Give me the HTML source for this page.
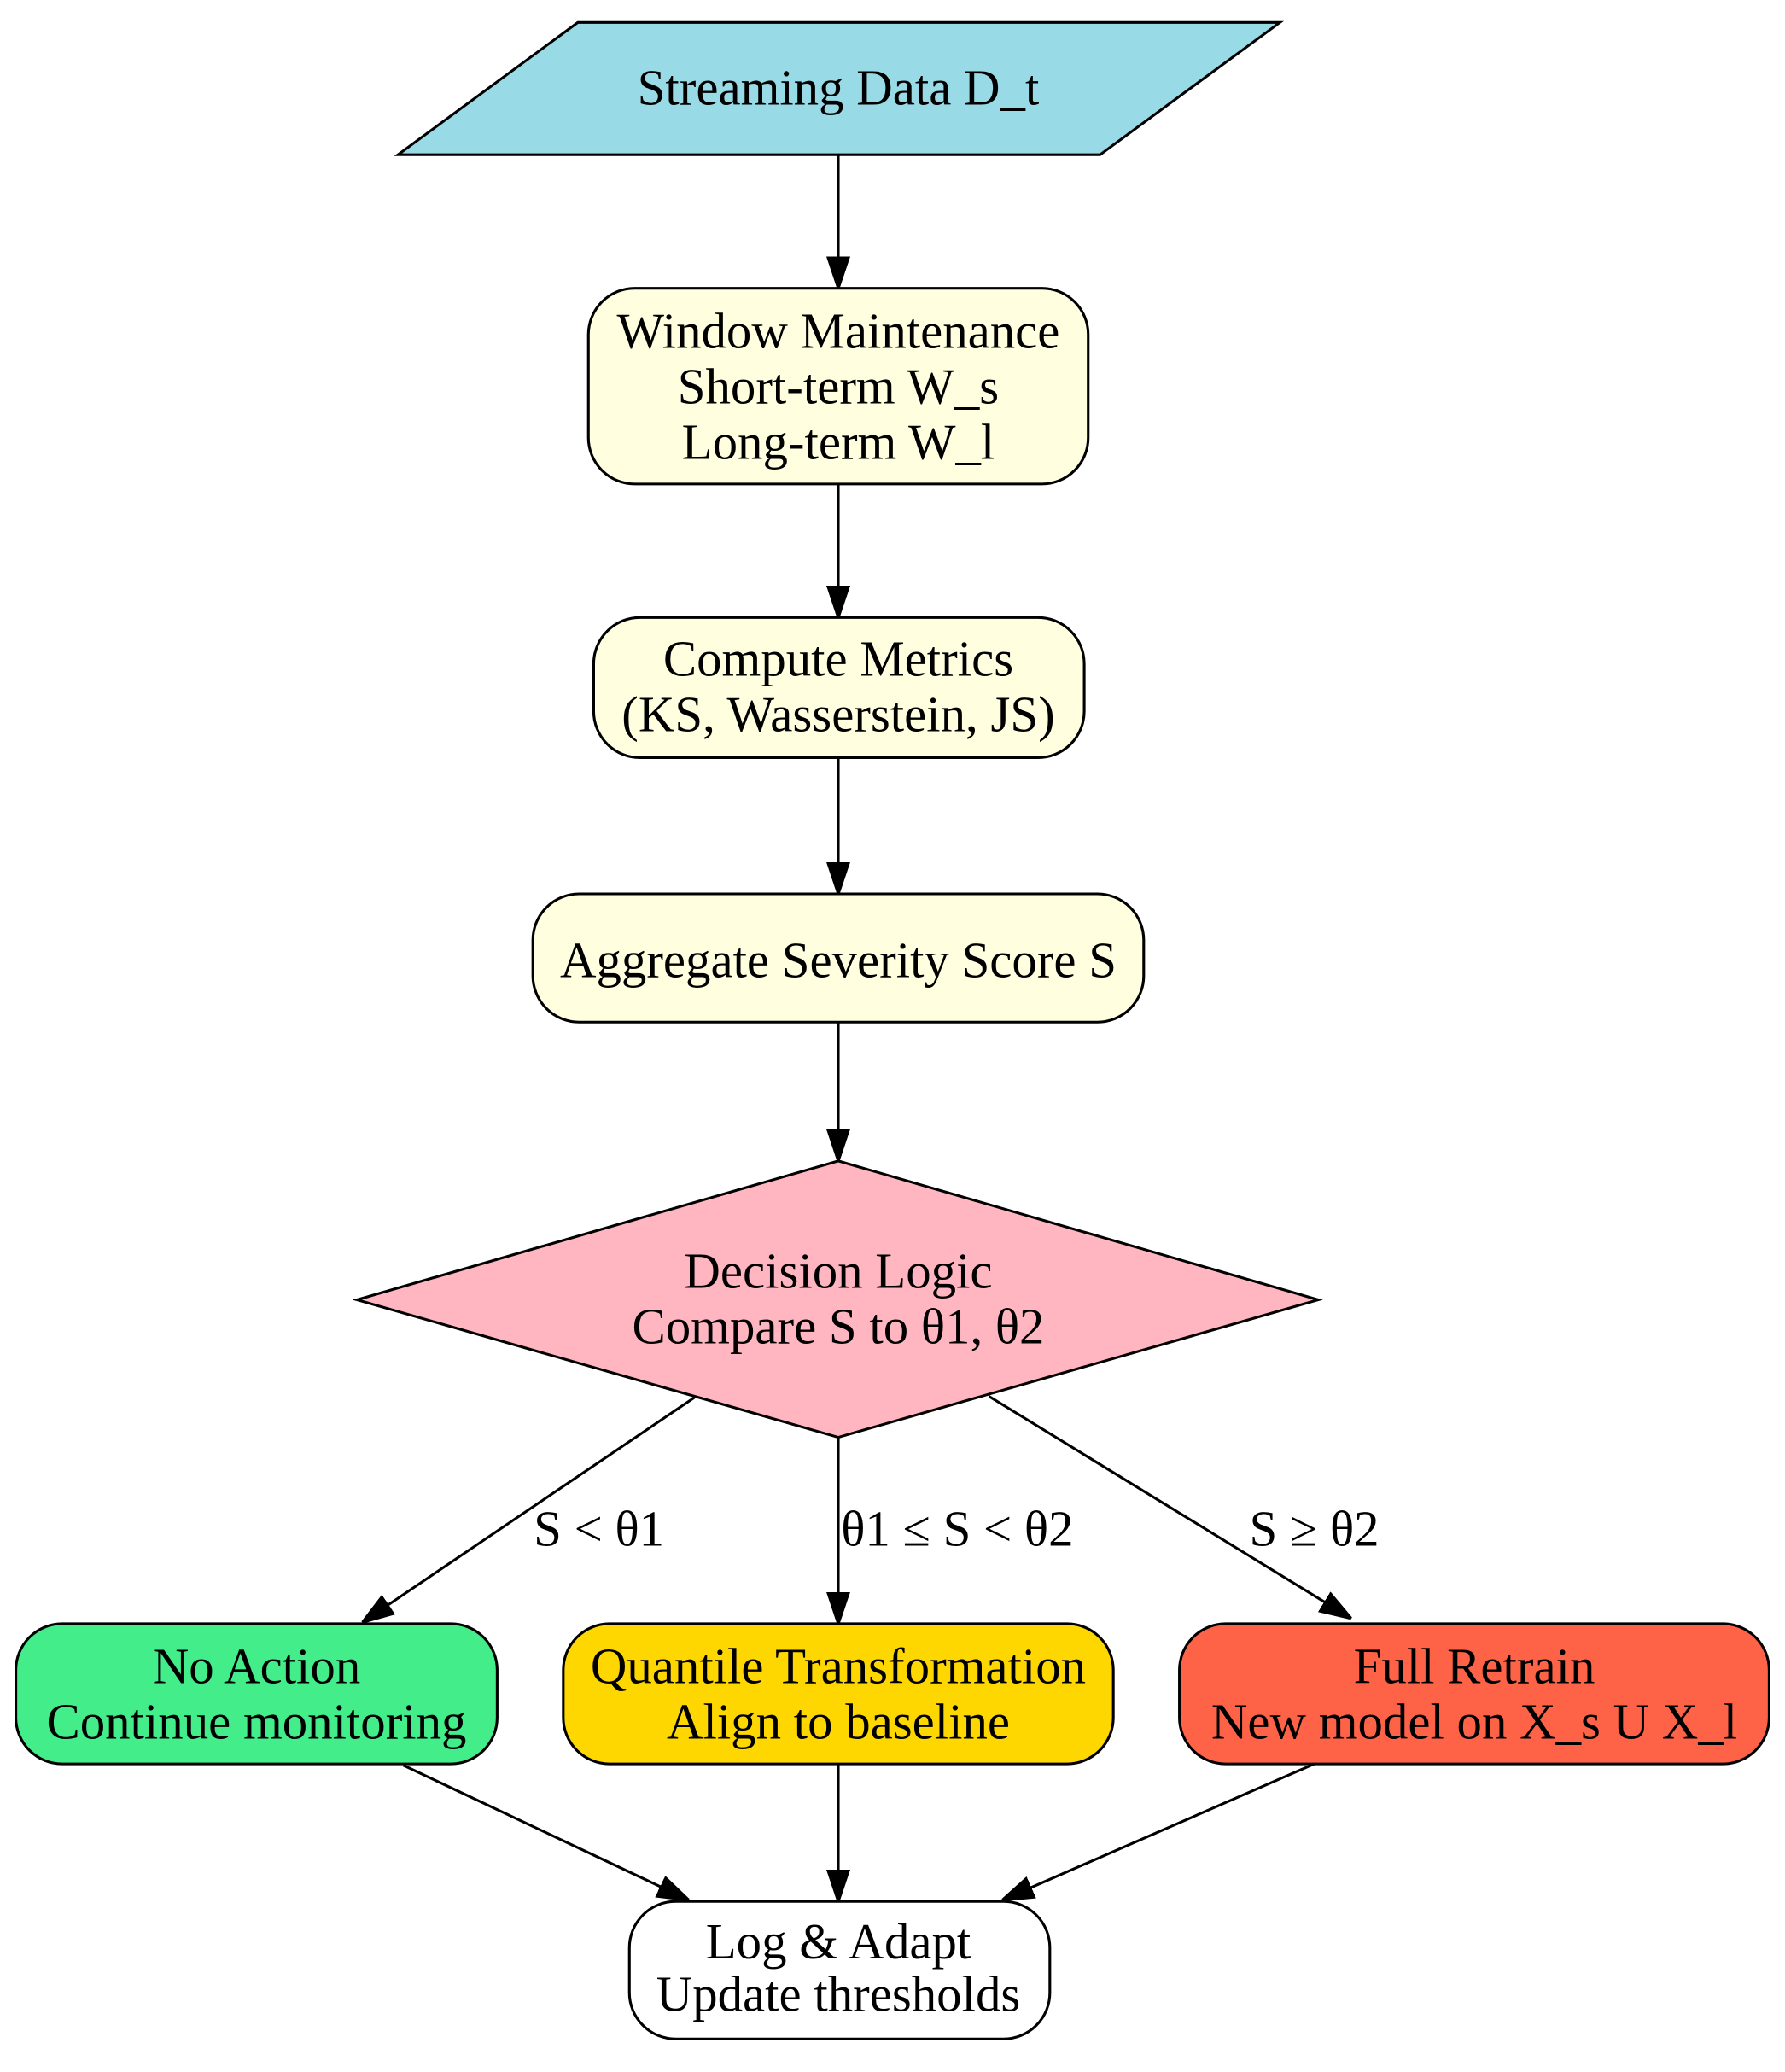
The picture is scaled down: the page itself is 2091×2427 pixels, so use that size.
<!DOCTYPE html>
<html><head><meta charset="utf-8"><style>html,body{margin:0;padding:0;background:#fff}svg{display:block}</style></head><body>
<svg width="2091" height="2427" viewBox="0 0 1350 1567" preserveAspectRatio="none" xmlns="http://www.w3.org/2000/svg" font-family="Liberation Serif, serif" font-size="38" text-anchor="middle">
<defs>
<marker id="b" markerWidth="24" markerHeight="24" refX="24" refY="12" orient="auto" markerUnits="userSpaceOnUse" viewBox="0 0 24 24"><path d="M0,4 L24,12 L0,20 Z" fill="#000" stroke="#000" stroke-width="2"/></marker></defs>
<g stroke="#000" stroke-width="2" fill="none">
<polygon points="437,17 968,17 832,117 301,117" fill="#98dae6"/>
<rect x="445" y="218" width="378" height="148" rx="35" fill="#ffffe0"/>
<rect x="449" y="467" width="371" height="106" rx="35" fill="#ffffe0"/>
<rect x="403" y="676" width="462" height="97" rx="35" fill="#ffffe0"/>
<polygon points="634,878 997,983 634,1087 270,983" fill="#ffb6c1"/>
<rect x="12" y="1228" width="364" height="106" rx="35" fill="#43ed8a"/>
<rect x="426" y="1228" width="416" height="106" rx="35" fill="#ffd700"/>
<rect x="892" y="1228" width="446" height="106" rx="35" fill="#ff6347"/>
<rect x="476" y="1438" width="318" height="104" rx="35" fill="#fff"/>
<g marker-end="url(#b)">
<line x1="634" y1="117" x2="634" y2="218"/>
<line x1="634" y1="366" x2="634" y2="467"/>
<line x1="634" y1="573" x2="634" y2="676"/>
<line x1="634" y1="773" x2="634" y2="878"/>
<line x1="525" y1="1057" x2="274" y2="1227"/>
<line x1="634" y1="1087" x2="634" y2="1228"/>
<line x1="748" y1="1056" x2="1022" y2="1224"/>
<line x1="305" y1="1335" x2="521" y2="1437"/>
<line x1="634" y1="1334" x2="634" y2="1438"/>
<line x1="994" y1="1334" x2="758" y2="1437"/>
</g></g>
<text x="634" y="79">Streaming Data D_t</text>
<text x="634" y="263">Window Maintenance</text>
<text x="634" y="305">Short-term W_s</text>
<text x="634" y="347">Long-term W_l</text>
<text x="634" y="511">Compute Metrics</text>
<text x="634" y="553">(KS, Wasserstein, JS)</text>
<text x="634" y="739">Aggregate Severity Score S</text>
<text x="634" y="974">Decision Logic</text>
<text x="634" y="1016">Compare S to θ1, θ2</text>
<text x="453" y="1169">S &lt; θ1</text>
<text x="724" y="1169">θ1 ≤ S &lt; θ2</text>
<text x="994" y="1169">S ≥ θ2</text>
<text x="194" y="1273">No Action</text>
<text x="194" y="1315">Continue monitoring</text>
<text x="634" y="1273">Quantile Transformation</text>
<text x="634" y="1315">Align to baseline</text>
<text x="1115" y="1273">Full Retrain</text>
<text x="1115" y="1315">New model on X_s U X_l</text>
<text x="634" y="1481">Log &amp; Adapt</text>
<text x="634" y="1521">Update thresholds</text>
</svg>
</body></html>
